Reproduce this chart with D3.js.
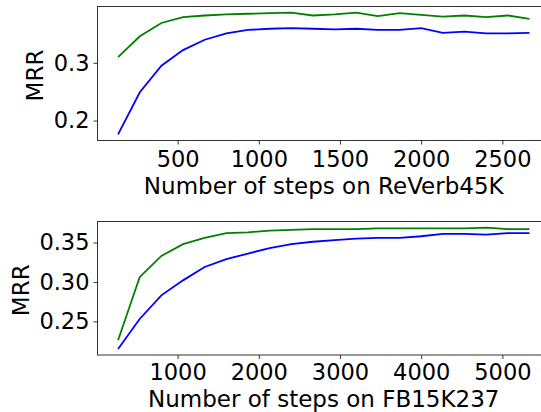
<!DOCTYPE html>
<html>
<head>
<meta charset="utf-8">
<script src="https://cdn.jsdelivr.net/npm/d3@7"></script>
<style>
  body { margin: 0; background: #fff; }
  svg { display: block; overflow: hidden; }
  .axis text { font-family: "DejaVu Sans", sans-serif; font-size: 22.5px; fill: #000; }
  .axis path, .axis line { stroke: #333; }
  .label { font-family: "DejaVu Sans", sans-serif; font-size: 23px; fill: #000; }
</style>
</head>
<body>
<div id="chart"></div>
<script>
// ReVerb45K run
const stepsReVerb = [133, 267, 400, 533, 667, 800, 933, 1067, 1200, 1333, 1467, 1600, 1733, 1867, 2000, 2133, 2267, 2400, 2533, 2667];
const reverbGreen = [0.310, 0.346, 0.369, 0.379, 0.382, 0.384, 0.385, 0.386, 0.387, 0.382, 0.384, 0.387, 0.381, 0.386, 0.383, 0.380, 0.382, 0.379, 0.382, 0.376];
const reverbBlue = [0.176, 0.249, 0.295, 0.322, 0.340, 0.351, 0.357, 0.359, 0.360, 0.359, 0.358, 0.359, 0.357, 0.357, 0.360, 0.352, 0.354, 0.351, 0.351, 0.352];
const reverbXTicks = [500, 1000, 1500, 2000, 2500];
const reverbYTicks = [0.2, 0.3];

// FB15K237 run
const stepsFB = [267, 533, 800, 1067, 1333, 1600, 1867, 2133, 2400, 2667, 2933, 3200, 3467, 3733, 4000, 4267, 4533, 4800, 5067, 5333];
const fbGreen = [0.226, 0.306, 0.333, 0.348, 0.356, 0.362, 0.363, 0.365, 0.366, 0.367, 0.367, 0.367, 0.368, 0.368, 0.368, 0.368, 0.368, 0.369, 0.367, 0.367];
const fbBlue = [0.215, 0.253, 0.283, 0.302, 0.319, 0.329, 0.336, 0.343, 0.348, 0.351, 0.353, 0.355, 0.356, 0.356, 0.358, 0.361, 0.361, 0.360, 0.362, 0.362];
const fbXTicks = [1000, 2000, 3000, 4000, 5000];
const fbYTicks = [0.25, 0.30, 0.35];

const width = 541, height = 412;

const svg = d3.select("#chart").append("svg")
    .attr("width", width)
    .attr("height", height);

// matplotlib style 5% padding around the data
function padded(values) {
    let [lo, hi] = d3.extent(values);
    let m = (hi - lo) * 0.05;
    return [lo - m, hi + m];
}

function drawPanel(opts) {
    let g = svg.append("g");

    let x = d3.scaleLinear()
        .domain(padded(opts.steps))
        .range([opts.left, opts.right]);

    let y = d3.scaleLinear()
        .domain(padded(opts.green.concat(opts.blue)))
        .range([opts.bottom, opts.top]);

    // axes box
    g.append("rect")
        .attr("x", opts.left)
        .attr("y", opts.top)
        .attr("width", opts.right - opts.left)
        .attr("height", opts.bottom - opts.top)
        .attr("fill", "none")
        .attr("stroke", "#333")
        .attr("stroke-width", 1);

    let line = d3.line()
        .x((d, i) => x(opts.steps[i]))
        .y(d => y(d));

    g.append("path")
        .datum(opts.green)
        .attr("d", line)
        .attr("fill", "none")
        .attr("stroke", "#008000")
        .attr("stroke-width", 1.8);

    g.append("path")
        .datum(opts.blue)
        .attr("d", line)
        .attr("fill", "none")
        .attr("stroke", "#0000ff")
        .attr("stroke-width", 1.8);

    g.append("g")
        .attr("class", "axis")
        .attr("transform", "translate(0," + opts.bottom + ")")
        .call(d3.axisBottom(x).tickValues(opts.xTicks).tickFormat(d3.format("d")).tickSize(4).tickPadding(opts.xPad))
        .call(a => a.select(".domain").remove());

    g.append("g")
        .attr("class", "axis")
        .attr("transform", "translate(" + opts.left + ",0)")
        .call(d3.axisLeft(y).tickValues(opts.yTicks).tickFormat(d3.format(opts.yFormat)).tickSize(4).tickPadding(4))
        .call(a => a.select(".domain").remove());

    g.append("text")
        .attr("class", "label")
        .attr("x", (opts.left + opts.right) / 2)
        .attr("y", opts.bottom + opts.xLabelGap)
        .attr("text-anchor", "middle")
        .text(opts.xLabel);

    g.append("text")
        .attr("class", "label")
        .attr("transform", "translate(" + opts.yLabelX + "," + ((opts.top + opts.bottom) / 2 + 2) + ") rotate(-90)")
        .attr("text-anchor", "middle")
        .text("MRR");
}

drawPanel({
    steps: stepsReVerb, green: reverbGreen, blue: reverbBlue,
    xTicks: reverbXTicks, yTicks: reverbYTicks, yFormat: ".1f",
    left: 97.5, right: 550, top: 6.5, bottom: 140.5, xPad: 7,
    xLabel: "Number of steps on ReVerb45K", xLabelGap: 53, yLabelX: 43
});

// bottom panel squeezed slightly so its x label fits inside the frame
drawPanel({
    steps: stepsFB, green: fbGreen, blue: fbBlue,
    xTicks: fbXTicks, yTicks: fbYTicks, yFormat: ".2f",
    left: 97.5, right: 550, top: 221.5, bottom: 355, xPad: 5,
    xLabel: "Number of steps on FB15K237", xLabelGap: 51.5, yLabelX: 28.5
});
</script>
</body>
</html>
